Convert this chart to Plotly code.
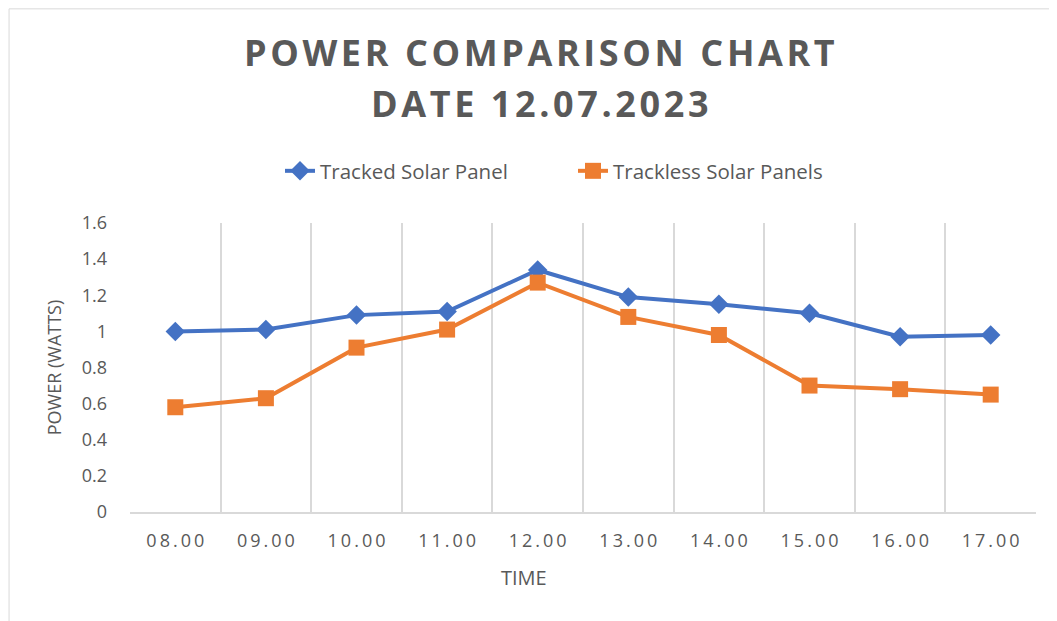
import plotly.graph_objects as go

times = ["08.00", "09.00", "10.00", "11.00", "12.00", "13.00", "14.00", "15.00", "16.00", "17.00"]
tracked = [1.00, 1.01, 1.09, 1.11, 1.34, 1.19, 1.15, 1.10, 0.97, 0.98]
trackless = [0.58, 0.63, 0.91, 1.01, 1.27, 1.08, 0.98, 0.70, 0.68, 0.65]
title_lines = ["POWER COMPARISON CHART", "DATE 12.07.2023"]

GRAY = "#595959"
FONT = "Open Sans"
SP = "\u2006"  # six-per-em space used as letter spacing


def spaced(s, sep=SP):
    return sep.join(list(s))


fig = go.Figure()
fig.add_trace(go.Scatter(
    x=times, y=tracked, mode="lines+markers", name="Tracked Solar Panel",
    line=dict(color="#4472C4", width=4),
    marker=dict(symbol="diamond", size=15, color="#4472C4"),
))
fig.add_trace(go.Scatter(
    x=times, y=trackless, mode="lines+markers", name="Trackless Solar Panels",
    line=dict(color="#ED7D31", width=4),
    marker=dict(symbol="square", size=16, color="#ED7D31"),
))

# page body adds an 8px offset; figure is sized so the plot lands where the reference has it
W, H = 1049, 613
ML, MR, MT, MB = 122, 21, 215, 109
PH = H - MT - MB
PW = W - ML - MR


def py(fy):
    return (H - MB - fy) / PH


def px(fx):
    return (fx - ML) / PW


annotations = [
    dict(text=spaced(title_lines[0], "\u200A"), x=0.4525, y=py(44), xref="paper", yref="paper",
         xanchor="center", yanchor="middle", showarrow=False,
         font=dict(family=FONT, size=36, color=GRAY, weight="bold")),
    dict(text=spaced(title_lines[1], "\u200A"), x=0.4525, y=py(96), xref="paper", yref="paper",
         xanchor="center", yanchor="middle", showarrow=False,
         font=dict(family=FONT, size=36, color=GRAY, weight="bold")),
    dict(text="TIME", x=px(516), y=py(569), xref="paper", yref="paper",
         xanchor="center", yanchor="middle", showarrow=False,
         font=dict(family=FONT, size=20, color=GRAY)),
]

fig.update_layout(
    width=W, height=H,
    margin=dict(l=ML, r=MR, t=MT, b=MB),
    paper_bgcolor="white", plot_bgcolor="white",
    font=dict(family=FONT, color=GRAY, size=17),
    annotations=annotations,
    legend=dict(
        orientation="h", x=px(272), xanchor="left", y=py(163), yanchor="middle",
        font=dict(family=FONT, size=20.5, color=GRAY),
        entrywidth=248, entrywidthmode="pixels",
    ),
    xaxis=dict(
        type="category", range=[-0.5, len(times) - 0.5],
        tickson="boundaries", showgrid=True,
        gridcolor="#D9D9D9", gridwidth=1.5,
        showline=True, linecolor="#D9D9D9", linewidth=1.5,
        ticks="", tickmode="array", tickvals=times,
        ticktext=[spaced(t) for t in times],
        tickfont=dict(size=18, color=GRAY),
        ticklabelstandoff=12, automargin=False,
    ),
    yaxis=dict(
        range=[0, 1.6], dtick=0.2, showgrid=False, zeroline=False,
        showline=False, ticks="", tickfont=dict(size=18, color=GRAY),
        ticklabelstandoff=22, automargin=False,
        title=dict(text="POWER (WATTS)", font=dict(size=18, color=GRAY), standoff=15),
    ),
    shapes=[dict(
        type="rect", xref="paper", yref="paper",
        x0=-0.1335, x1=1.1, y0=-0.4, y1=1.741,
        line=dict(color="#D9D9D9", width=1), layer="below",
    )],
)

fig.write_html("out.html")
